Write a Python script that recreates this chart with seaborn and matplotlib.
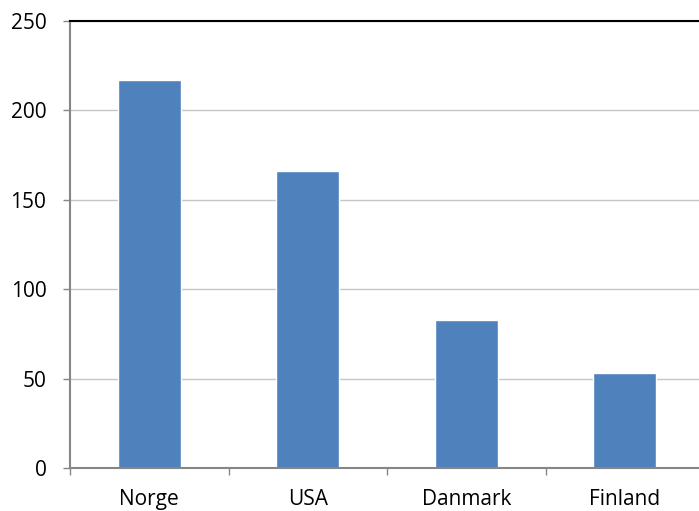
import pandas as pd
import matplotlib.pyplot as plt
import seaborn as sns

countries = ["Norge", "USA", "Danmark", "Finland"]
values = [217, 166, 83, 53]

sns.set_style("white")
plt.rcParams.update({
    "font.family": ["Open Sans", "DejaVu Sans"],
    "font.size": 15,
})

df = pd.DataFrame({"country": countries, "value": values})

fig = plt.figure(figsize=(6.99, 5.11), dpi=100)
ax = fig.add_axes([70 / 699, 1 - 468 / 511, 634 / 699, 447 / 511])

sns.barplot(data=df, x="country", y="value", color="#4F81BD", width=0.4,
            saturation=1, ax=ax)

ax.set_ylim(0, 250)
ax.set_xlim(-0.5, 3.5)
ax.set_yticks(range(0, 251, 50))
ax.set_xticks([-0.5, 0.5, 1.5, 2.5, 3.5], minor=False)
ax.set_xticklabels([])
ax.set_xticks(range(4), minor=True)
ax.set_xticklabels(countries, minor=True)
ax.tick_params(axis="x", which="minor", bottom=False, length=0, pad=15,
               labelsize=15, labelcolor="black")
ax.tick_params(axis="x", which="major", bottom=True, length=5, color="#868686", width=1)
ax.tick_params(axis="y", left=True, length=5, color="#868686", width=1, pad=12,
               labelsize=15, labelcolor="black")
ax.grid(axis="y", color="#C6C6C6", linewidth=1)
ax.set_axisbelow(True)
ax.set_xlabel("")
ax.set_ylabel("")

ax.spines["left"].set_color("#868686")
ax.spines["left"].set_linewidth(1.5)
ax.spines["bottom"].set_color("#868686")
ax.spines["bottom"].set_linewidth(1.5)
ax.spines["top"].set_color("black")
ax.spines["top"].set_linewidth(1.5)
ax.spines["right"].set_visible(False)

fig.savefig("out.png", dpi=100)
